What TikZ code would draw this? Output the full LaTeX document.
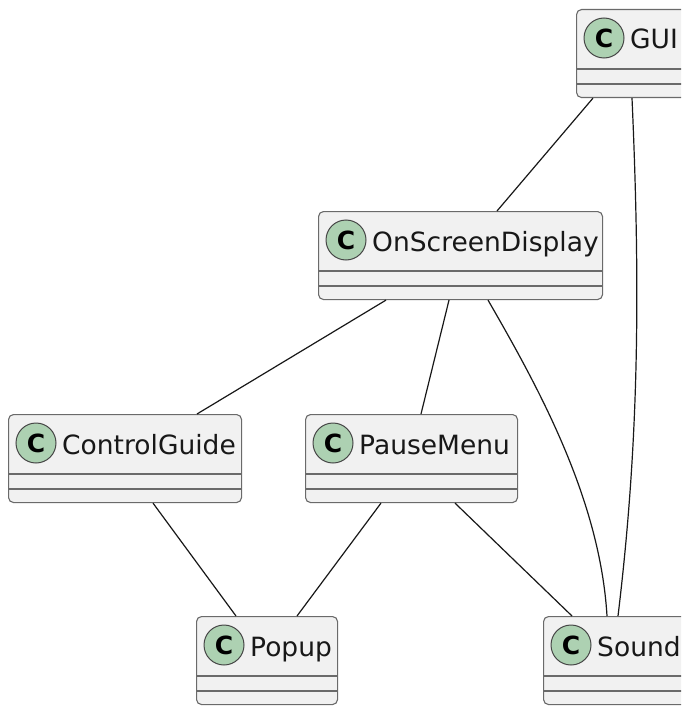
\documentclass[tikz,border=0pt]{standalone}
\usepackage{fontspec}
\setmainfont{DejaVu Sans}
\definecolor{boxfill}{HTML}{F1F1F1}
\definecolor{boxline}{HTML}{6A6A6A}
\definecolor{circfill}{HTML}{ADD1B2}
\definecolor{edge}{HTML}{181818}
\tikzset{
  clsbox/.style={draw=boxline, fill=boxfill, line width=1.1pt, rounded corners=5pt,
    minimum height=88pt, inner sep=0pt, anchor=north west},
  sepline/.style={draw=boxline, line width=1.1pt},
  circ/.style={circle, draw=edge!80, line width=1pt, fill=circfill, minimum size=40pt,
    inner sep=0pt, font=\fontsize{25}{28}\bfseries\selectfont},
  lbl/.style={inner sep=0pt, anchor=base west, text=edge, font=\fontsize{26.5}{30}\selectfont},
  conn/.style={draw=edge, line width=1.2pt}
}
\newcommand\umlcls[5]{%
  \node[clsbox, minimum width=#4pt] (#1) at (#2,#3) {};
  \draw[sepline] ([yshift=-60pt]#1.north west) -- ([yshift=-60pt]#1.north east);
  \draw[sepline] ([yshift=-75pt]#1.north west) -- ([yshift=-75pt]#1.north east);
  \node[circ] (#1c) at ([xshift=28pt,yshift=-29pt]#1.north west) {C};
  \node[lbl] (#1t) at ([xshift=54pt,yshift=-40pt]#1.north west) {#5};
}
\begin{document}
\begin{tikzpicture}[x=1pt,y=-1pt]
\clip (0,0) rectangle (681,706);
\fill[white] (0,0) rectangle (681,706);
\umlcls{gui}{576}{9}{114}{GUI}
\umlcls{osd}{318}{211}{284}{OnScreenDisplay}
\umlcls{cg}{8}{414}{233}{ControlGuide}
\umlcls{pm}{305}{414}{212}{PauseMenu}
\umlcls{pop}{196}{616}{141}{Popup}
\umlcls{snd}{543}{616}{152}{Sound}
% connectors
\draw[conn] ([xshift=17pt]gui.south west) -- ([xshift=179pt]osd.north west);
\draw[conn] ([xshift=56pt]gui.south west) .. controls +(9,203) and +(20,-166) .. ([xshift=75pt]snd.north west);
\draw[conn] ([xshift=68pt]osd.south west) -- ([xshift=189pt]cg.north west);
\draw[conn] ([xshift=131pt]osd.south west) -- ([xshift=116pt]pm.north west);
\draw[conn] ([xshift=170pt]osd.south west) .. controls +(52,90) and +(-7,-116) .. ([xshift=64pt]snd.north west);
\draw[conn] ([xshift=145pt]cg.south west) -- ([xshift=40pt]pop.north west);
\draw[conn] ([xshift=76pt]pm.south west) -- ([xshift=101pt]pop.north west);
\draw[conn] ([xshift=150pt]pm.south west) -- ([xshift=29pt]snd.north west);
\end{tikzpicture}
\end{document}
